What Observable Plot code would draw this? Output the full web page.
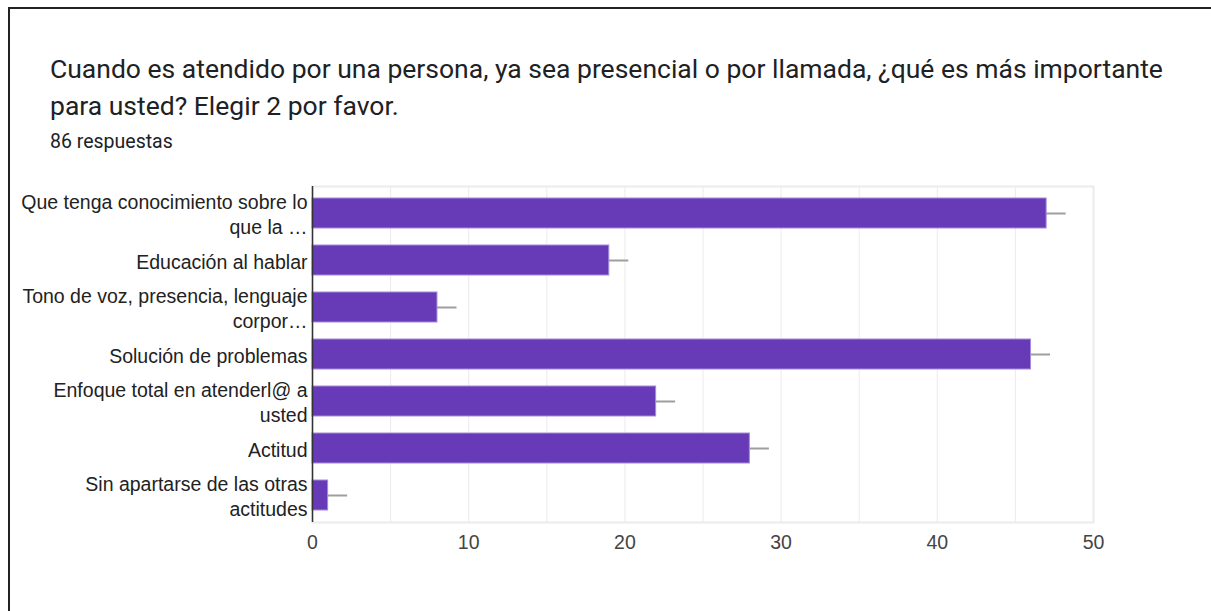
<!DOCTYPE html>
<html>
<head>
<meta charset="utf-8">
<script src="https://cdn.jsdelivr.net/npm/d3@7"></script>
<script src="https://cdn.jsdelivr.net/npm/@observablehq/plot@0.6"></script>
<style>
  html, body { margin: 0; padding: 0; background: #fff; }
  body { width: 1211px; height: 611px; position: relative; overflow: hidden; }
  #border { position: absolute; left: 8px; top: 7px; right: -10px; bottom: -10px;
            border-top: 2px solid #222; border-left: 2px solid #222; }
  #title { position: absolute; left: 50px; top: 50px; font-family: Roboto, sans-serif;
           font-size: 26.5px; line-height: 37px; color: #202124; white-space: nowrap; }
  #sub { position: absolute; left: 50px; top: 132px; font-family: Roboto, sans-serif;
         font-size: 19.5px; line-height: 20px; color: #202124; }
  #chart { position: absolute; left: 0; top: 170px; }
</style>
</head>
<body>
<div id="border"></div>
<div id="title">Cuando es atendido por una persona, ya sea presencial o por llamada, ¿qué es más importante<br>para usted? Elegir 2 por favor.</div>
<div id="sub">86 respuestas</div>
<div id="chart"></div>
<script>
const categories = [
  "Que tenga conocimiento sobre lo\nque la …",
  "Educación al hablar",
  "Tono de voz, presencia, lenguaje\ncorpor…",
  "Solución de problemas",
  "Enfoque total en atenderl@ a\nusted",
  "Actitud",
  "Sin apartarse de las otras\nactitudes"
];
const counts = [47, 19, 8, 46, 22, 28, 1];
const errorBar = [1.25, 1.25, 1.25, 1.25, 1.25, 1.25, 1.25];
const xTicks = [0, 10, 20, 30, 40, 50];
const gridTicks = [5, 10, 15, 20, 25, 30, 35, 40, 45];

const data = categories.map((c, i) => ({label: c, value: counts[i], err: errorBar[i]}));

const chart = Plot.plot({
  width: 1211,
  height: 400,
  marginLeft: 312,
  marginRight: 118,
  marginTop: 16,
  marginBottom: 48,
  style: {fontFamily: "'Liberation Sans', Arial, sans-serif", fontSize: "19.5px", background: "transparent"},
  x: {domain: [0, 50], ticks: xTicks, tickSize: 0, label: null},
  y: {domain: categories, paddingInner: 0.37, paddingOuter: 0.23, tickSize: 0, label: null},
  marks: [
    Plot.gridX(gridTicks, {stroke: "#ebebeb", strokeOpacity: 1, strokeWidth: 1}),
    Plot.frame({stroke: "#ebebeb", strokeWidth: 2}),
    Plot.ruleY(data, {y: "label", x1: "value", x2: d => d.value + d.err, stroke: "#9e9e9e", strokeWidth: 2}),
    Plot.barX(data, {y: "label", x: "value", fill: "#673ab7", stroke: "#a58bd9", strokeWidth: 1}),
    Plot.ruleX([0], {stroke: "#333", strokeWidth: 1.5}),
    Plot.axisX({ticks: xTicks, tickSize: 0, tickPadding: 13, fill: "#444", fontSize: 19.5, label: null}),
    Plot.axisY({tickSize: 0, tickPadding: 5, fill: "#222", fontSize: 19.5, lineHeight: 1.3, label: null})
  ]
});
document.getElementById("chart").appendChild(chart);
</script>
</body>
</html>
